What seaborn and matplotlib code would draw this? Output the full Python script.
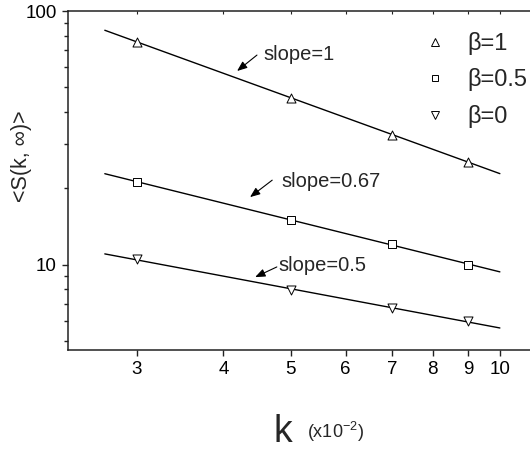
import numpy as np
import pandas as pd
import matplotlib
matplotlib.use("Agg")
import matplotlib.pyplot as plt
from matplotlib.lines import Line2D
from matplotlib.ticker import NullFormatter, FixedLocator, FixedFormatter, NullLocator
import seaborn as sns

# ---- data ----
k_values = [3, 5, 7, 9]
s_beta1 = [75.7, 45.4, 32.5, 25.4]
s_beta05 = [21.2, 15.0, 12.0, 10.0]
s_beta0 = [10.5, 7.92, 6.76, 5.96]
beta_labels = ["β=1", "β=0.5", "β=0"]
slope_labels = ["slope=1", "slope=0.67", "slope=0.5"]
x_tick_values = [3, 4, 5, 6, 7, 8, 9, 10]
x_tick_labels = ["3", "4", "5", "6", "7", "8", "9", "10"]
fit_range = [2.7, 10.0]

sns.set_theme(style="ticks")
plt.rcParams["font.family"] = ["Liberation Sans", "DejaVu Sans"]
plt.rcParams["mathtext.fontset"] = "custom"
plt.rcParams["mathtext.rm"] = "Liberation Sans"
plt.rcParams["mathtext.it"] = "Liberation Sans:italic"

series = [s_beta1, s_beta05, s_beta0]
markers = ["^", "s", "v"]
msizes = [6.5, 5.5, 6.5]

rows = []
for lab, vals in zip(beta_labels, series):
    for k, s in zip(k_values, vals):
        rows.append({"k": k, "S": s, "beta": lab})
df = pd.DataFrame(rows)

fig = plt.figure(figsize=(5.3, 4.49), dpi=100)
ax = fig.add_axes([68 / 530, 99 / 449, 462 / 530, 339 / 449])
ax.set_xscale("log")
ax.set_yscale("log")

# fitted power-law lines
for lab, vals in zip(beta_labels, series):
    p = np.polyfit(np.log10(k_values), np.log10(vals), 1)
    xf = np.array(fit_range)
    yf = 10 ** np.polyval(p, np.log10(xf))
    sns.lineplot(x=xf, y=yf, ax=ax, color="black", linewidth=1.0, legend=False)

# data markers
for lab, m, ms in zip(beta_labels, markers, msizes):
    sub = df[df["beta"] == lab]
    sns.scatterplot(data=sub, x="k", y="S", ax=ax, marker=m, s=ms ** 2,
                    facecolor="white", edgecolor="black", linewidth=0.7,
                    legend=False, zorder=3)

ax.set_xlim(2.39, 11.05)
ax.set_ylim(4.6, 100)

# ticks
ax.xaxis.set_major_locator(FixedLocator(x_tick_values))
ax.xaxis.set_major_formatter(FixedFormatter(x_tick_labels))
ax.xaxis.set_minor_locator(NullLocator())
ax.yaxis.set_minor_formatter(NullFormatter())
ax.set_yticks([10, 100])
ax.set_yticklabels(["10", "100"])
ax.tick_params(axis="both", which="major", direction="out", length=4.5, width=1.0,
               labelsize=13.5, pad=3.5, color="#222222", labelcolor="black")
ax.tick_params(axis="y", which="minor", direction="out", length=3, width=1.0,
               color="#222222")

for side in ["left", "bottom", "top"]:
    ax.spines[side].set_visible(True)
    ax.spines[side].set_linewidth(1.1)
    ax.spines[side].set_color("#222222")
ax.spines["right"].set_visible(False)

# inward ticks on the top spine
axt = ax.twiny()
axt.set_xscale("log")
axt.set_xlim(ax.get_xlim())
axt.xaxis.set_major_locator(FixedLocator(x_tick_values))
axt.xaxis.set_minor_locator(NullLocator())
axt.tick_params(axis="x", which="major", direction="in", length=2.5, width=0.8,
                labeltop=False, color="#222222")
for side in ["left", "bottom", "right", "top"]:
    axt.spines[side].set_visible(False)

# labels
ax.set_ylabel("<S(k, ∞)>", fontsize=15.5)
ax.yaxis.set_label_coords(-0.078, 0.572)
ax.set_xlabel("k", fontsize=27)
ax.xaxis.label.set_va("baseline")
ax.xaxis.set_label_coords(0.465, -0.271)
ax.text(0.517, -0.26, r"(x10$^{-2}$)", transform=ax.transAxes, fontsize=13,
        ha="left", va="baseline")

# slope annotations (axes-fraction positions)
ann = [((0.366, 0.823), (0.409, 0.870), (0.422, 0.873)),
       ((0.394, 0.451), (0.442, 0.501), (0.463, 0.496)),
       ((0.405, 0.215), (0.452, 0.245), (0.455, 0.248))]
for lab, (head, tail, txt) in zip(slope_labels, ann):
    ax.annotate("", xy=head, xytext=tail, xycoords="axes fraction",
                textcoords="axes fraction",
                arrowprops=dict(arrowstyle="-|>,head_length=0.5,head_width=0.2",
                                color="black", lw=0.8, shrinkA=0, shrinkB=0))
    ax.text(txt[0], txt[1], lab, transform=ax.transAxes, fontsize=14.5,
            ha="left", va="center")

# legend
handles = [Line2D([], [], marker=m, linestyle="none", markersize=ms - 1,
                  markerfacecolor="white", markeredgecolor="black",
                  markeredgewidth=0.7) for m, ms in zip(markers, msizes)]
ax.legend(handles, beta_labels, loc="upper left", bbox_to_anchor=(0.769, 0.938),
          frameon=False, fontsize=17, handlelength=1.0, handletextpad=0.86,
          labelspacing=0.57, borderpad=0, borderaxespad=0)

fig.savefig("out.png", dpi=100)
